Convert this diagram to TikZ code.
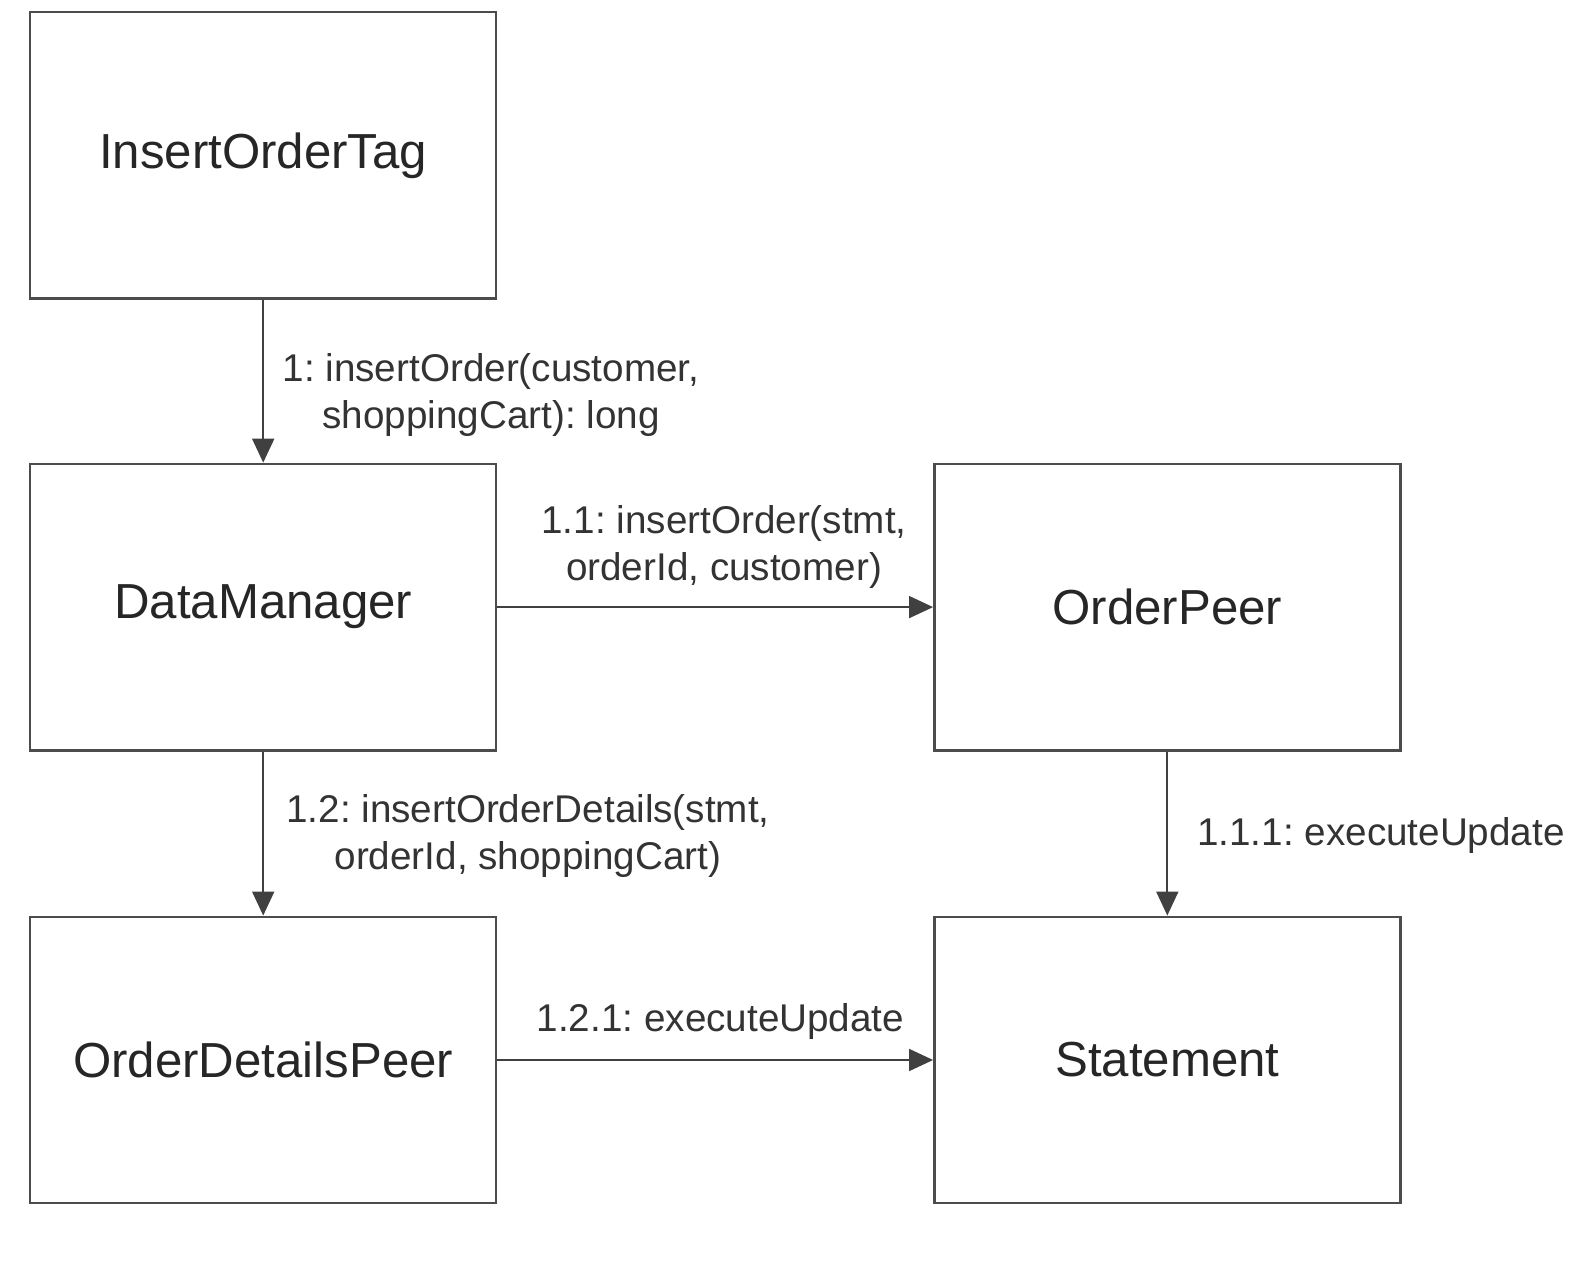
\documentclass[tikz,border=0pt]{standalone}
\usepackage{fontspec}
\setmainfont{Liberation Sans}
\usetikzlibrary{arrows.meta, positioning}
\frenchspacing

\tikzset{
  objbox/.style={draw=black!70, line width=0.7pt, fill=white, minimum width=4.66cm, minimum height=2.864cm, inner sep=0pt, text=black!85, font=\fontsize{14}{16}\selectfont},
  msg/.style={-{Triangle[length=0.24cm,width=0.22cm]}, draw=black!75, line width=0.5pt},
  msglabel/.style={align=center, inner sep=0pt, text=black!80, font=\fontsize{11}{13.2}\selectfont}
}

\begin{document}
\begin{tikzpicture}
\useasboundingbox (0,0) rectangle (15.8,-12.8);
%objects
\node[objbox] (tag) at (2.632,-1.553) {InsertOrderTag};
\node[objbox] (dm) at (2.632,-6.071) {DataManager};
\node[objbox] (op) at (11.673,-6.071) {OrderPeer};
\node[objbox] (odp) at (2.632,-10.6) {OrderDetailsPeer};
\node[objbox] (stmt) at (11.673,-10.6) {Statement};

%messages
\draw[msg] (tag) -- (dm);
\draw[msg] (dm) -- (op);
\draw[msg] (dm) -- (odp);
\draw[msg] (op) -- (stmt);
\draw[msg] (odp) -- (stmt);

\node[msglabel] (l1) at (4.91,-3.95) {1: insertOrder(customer,\\shoppingCart): long};
\node[msglabel] (l11) at (7.24,-5.47) {1.1: insertOrder(stmt,\\orderId, customer)};
\node[msglabel] (l12) at (5.28,-8.36) {1.2: insertOrderDetails(stmt,\\orderId, shoppingCart)};
\node[msglabel] (l111) at (13.81,-8.36) {1.1.1: executeUpdate};
\node[msglabel] (l121) at (7.205,-10.21) {1.2.1: executeUpdate};
\end{tikzpicture}
\end{document}
